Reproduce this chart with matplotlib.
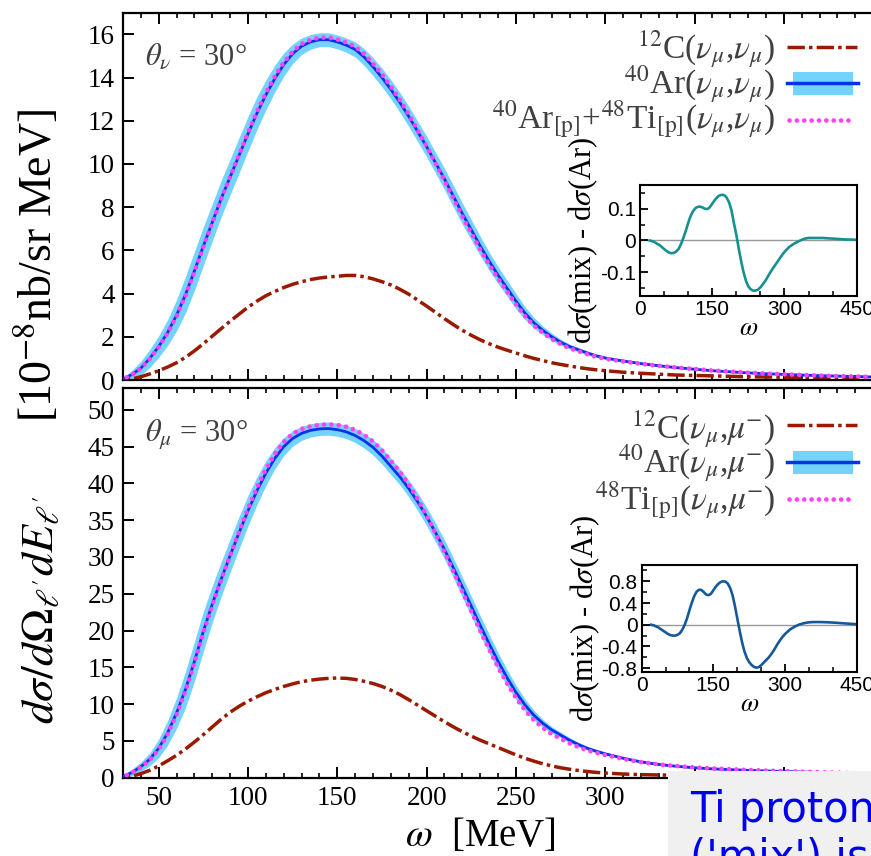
import numpy as np
import matplotlib
matplotlib.use("Agg")
import matplotlib.pyplot as plt
from matplotlib.lines import Line2D
from matplotlib.patches import Rectangle
from matplotlib.ticker import MultipleLocator

plt.rcParams['font.family'] = ['Liberation Serif', 'DejaVu Serif']
plt.rcParams['mathtext.fontset'] = 'stix'

# energy transfer grid [MeV]
omega = list(range(20, 305, 5)) + list(range(310, 460, 10))

# ---- neutral current, theta_nu = 30 deg ----
c12_nc = [0, 0, 0.0, 0.05, 0.15, 0.28, 0.43, 0.6, 0.8, 1.05, 1.35, 1.68, 2.03, 2.38, 2.72,
          3.05, 3.37, 3.65, 3.9, 4.1, 4.28, 4.43, 4.55, 4.65, 4.72, 4.77, 4.8, 4.84, 4.84,
          4.78, 4.68, 4.55, 4.4, 4.2, 3.97, 3.7, 3.42, 3.13, 2.84, 2.56, 2.3, 2.07, 1.86,
          1.68, 1.52, 1.38, 1.25, 1.12, 1.0, 0.9, 0.8, 0.72, 0.65, 0.58, 0.52, 0.47, 0.43,
          0.36, 0.31, 0.27, 0.23, 0.21, 0.19, 0.17, 0.15, 0.14, 0.13, 0.12, 0.11, 0.1, 0.09, 0.08]
ar_nc = [0, 0, 0.05, 0.25, 0.55, 1.0, 1.55, 2.2, 3.0, 3.95, 5.05, 6.2, 7.3, 8.4, 9.4,
         10.4, 11.4, 12.35, 13.2, 13.95, 14.6, 15.1, 15.45, 15.65, 15.75, 15.75, 15.65, 15.5,
         15.3, 14.95, 14.5, 14.0, 13.45, 12.85, 12.2, 11.5, 10.8, 10.05, 9.3, 8.5, 7.7, 6.95,
         6.2, 5.5, 4.85, 4.25, 3.65, 3.1, 2.65, 2.3, 2.0, 1.75, 1.55, 1.4, 1.25, 1.12, 1.02,
         0.88, 0.76, 0.66, 0.57, 0.5, 0.43, 0.38, 0.33, 0.29, 0.26, 0.23, 0.2, 0.18, 0.16, 0.14]
ar_nc_err = [0, 0, 0.06, 0.2, 0.32, 0.42, 0.5, 0.6, 0.72, 0.84, 0.9, 0.89, 0.86, 0.84, 0.82,
             0.82, 0.8, 0.76, 0.69, 0.62, 0.54, 0.45, 0.38, 0.34, 0.32, 0.32, 0.32, 0.33,
             0.35, 0.39, 0.42, 0.43, 0.44, 0.46, 0.47, 0.47, 0.48, 0.48, 0.49, 0.5, 0.49, 0.47,
             0.45, 0.42, 0.39, 0.37, 0.35, 0.3, 0.25, 0.2, 0.17, 0.14, 0.11, 0.095, 0.088, 0.075,
             0.06, 0.05, 0.045, 0.04, 0.035, 0.03, 0.028, 0.025, 0.022, 0.02, 0.018, 0.016,
             0.015, 0.014, 0.013, 0.012]
diff_nc = [0, -0.002, -0.005, -0.01, -0.014, -0.02, -0.027, -0.033, -0.038, -0.04, -0.039,
           -0.035, -0.027, -0.012, 0.008, 0.03, 0.055, 0.077, 0.092, 0.102, 0.106, 0.107,
           0.104, 0.1, 0.099, 0.105, 0.116, 0.127, 0.136, 0.142, 0.144, 0.143, 0.135, 0.12,
           0.095, 0.055, 0.018, -0.025, -0.065, -0.1, -0.127, -0.145, -0.154, -0.158, -0.158,
           -0.155, -0.148, -0.138, -0.128, -0.115, -0.102, -0.09, -0.079, -0.068, -0.057,
           -0.046, -0.036, -0.02, -0.01, -0.002, 0.005, 0.008, 0.008, 0.008, 0.008, 0.007,
           0.006, 0.005, 0.004, 0.003, 0.003, 0.002]

# ---- charged current, theta_mu = 30 deg ----
c12_cc = [0, 0, 0.0, 0.2, 0.55, 1.0, 1.6, 2.3, 3.05, 3.9, 4.85, 5.85, 6.9, 7.95, 8.9, 9.7,
          10.4, 11.0, 11.55, 12.0, 12.4, 12.75, 13.05, 13.25, 13.4, 13.5, 13.55, 13.5, 13.35,
          13.1, 12.8, 12.4, 11.9, 11.3, 10.6, 9.85, 9.1, 8.35, 7.6, 6.9, 6.25, 5.65, 5.1,
          4.6, 4.1, 3.6, 3.1, 2.65, 2.25, 1.9, 1.6, 1.35, 1.15, 0.98, 0.84, 0.72, 0.63,
          0.5, 0.42, 0.37, 0.33, 0.3, 0.27, 0.25, 0.23, 0.21, 0.2, 0.19, 0.18, 0.17, 0.16, 0.15]
ar_cc = [0, 0, 0.15, 0.7, 1.5, 2.5, 4.0, 6.1, 8.8, 12.0, 15.8, 19.9, 23.6, 27.0, 30.2, 33.3,
         36.3, 39.0, 41.4, 43.4, 45.0, 46.1, 46.8, 47.2, 47.4, 47.45, 47.3, 47.0, 46.5, 45.8,
         44.9, 43.7, 42.3, 40.9, 39.3, 37.5, 35.5, 33.3, 31.0, 28.5, 25.9, 23.3, 20.7, 18.2,
         15.8, 13.6, 11.6, 9.9, 8.5, 7.4, 6.5, 5.8, 5.1, 4.5, 4.0, 3.6, 3.25,
         2.65, 2.15, 1.8, 1.55, 1.35, 1.2, 1.1, 1.0, 0.92, 0.85, 0.78, 0.72, 0.66, 0.6, 0.55]
ar_cc_err = [0, 0, 0.25, 0.45, 0.63, 0.88, 1.26, 1.68, 2.07, 2.45, 2.7, 2.7, 2.5, 2.35, 2.25,
             2.2, 2.08, 1.9, 1.68, 1.45, 1.23, 1.05, 0.95, 0.9, 0.9, 0.9, 0.9, 0.91, 0.95, 1.0,
             1.05, 1.1, 1.1, 1.1, 1.15, 1.2, 1.25, 1.28, 1.3, 1.35, 1.35, 1.35, 1.32, 1.28, 1.2,
             1.1, 0.98, 0.82, 0.67, 0.54, 0.44, 0.38, 0.35, 0.3, 0.25, 0.21, 0.18,
             0.15, 0.12, 0.1, 0.09, 0.08, 0.07, 0.065, 0.06, 0.055, 0.05, 0.045, 0.04, 0.04,
             0.035, 0.035]
diff_cc = [0, -0.01, -0.03, -0.05, -0.08, -0.11, -0.14, -0.17, -0.19, -0.2, -0.2, -0.185,
           -0.155, -0.09, 0.0, 0.12, 0.27, 0.41, 0.53, 0.61, 0.645, 0.64, 0.6, 0.555, 0.545,
           0.57, 0.635, 0.7, 0.75, 0.785, 0.8, 0.795, 0.76, 0.68, 0.55, 0.35, 0.12, -0.11,
           -0.32, -0.49, -0.61, -0.69, -0.74, -0.775, -0.79, -0.78, -0.745, -0.7, -0.655,
           -0.61, -0.555, -0.49, -0.42, -0.345, -0.28, -0.22, -0.17, -0.09, -0.035, 0.005,
           0.03, 0.045, 0.05, 0.05, 0.048, 0.045, 0.04, 0.035, 0.028, 0.022, 0.016, 0.01]

main_xticks = [50, 100, 150, 200, 250, 300, 350, 400, 450]
main_xticklabels = ['50', '100', '150', '200', '250', '300', '', '', '']
nc_yticks = [0, 2, 4, 6, 8, 10, 12, 14, 16]
cc_yticks = [0, 5, 10, 15, 20, 25, 30, 35, 40, 45, 50]
inset_xticks = [0, 150, 300, 450]
nc_inset_yticks = [-0.1, 0, 0.1]
cc_inset_yticks = [-0.8, -0.4, 0, 0.4, 0.8]

labels_nc = [r"$^{12}$C($\nu_\mu$,$\nu_\mu$)",
             r"$^{40}$Ar($\nu_\mu$,$\nu_\mu$)",
             r"$^{40}$Ar$_{[\mathrm{p}]}$+$^{48}$Ti$_{[\mathrm{p}]}$($\nu_\mu$,$\nu_\mu$)"]
labels_cc = [r"$^{12}$C($\nu_\mu$,$\mu$$^{\mathrm{-}}$)",
             r"$^{40}$Ar($\nu_\mu$,$\mu$$^{\mathrm{-}}$)",
             r"$^{48}$Ti$_{[\mathrm{p}]}$($\nu_\mu$,$\mu$$^{\mathrm{-}}$)"]

RED = '#9a1a00'
BLUE = '#0033ee'
BAND = '#74d3fb'
MAGENTA = '#ff44f4'
GREY_TXT = '#404040'

W, H = 871, 856
fig = plt.figure(figsize=(W / 100, H / 100), dpi=100)


def fig_box(x0, y0, x1, y1):
    return [x0 / W, 1 - y1 / H, (x1 - x0) / W, (y1 - y0) / H]


def fx(x):
    return x / W


def fy(y):
    return 1 - y / H


ax_nc = fig.add_axes(fig_box(123, 12.7, 891, 380))
ax_cc = fig.add_axes(fig_box(123, 387.7, 891, 777.7))

om = np.array(omega, dtype=float)
dash_dot = (0, (5, 1.2, 1, 1.2))
dots = (0, (0.01, 1.55))

for ax, c12, ar, err, diff, ylim, yt in [
        (ax_nc, c12_nc, ar_nc, ar_nc_err, diff_nc, 17.0, nc_yticks),
        (ax_cc, c12_cc, ar_cc, ar_cc_err, diff_cc, 53.0, cc_yticks)]:
    ar = np.array(ar)
    err = np.array(err)
    mix = ar + np.array(diff)
    ax.fill_between(om, ar - err, ar + err, color=BAND, lw=0, zorder=1)
    ax.plot(om, c12, color=RED, lw=2.5, ls=dash_dot, zorder=2)
    ax.plot(om, ar, color=BLUE, lw=2.0, zorder=3)
    ax.plot(om, mix, color=MAGENTA, lw=3.4, ls=dots, dash_capstyle='round', zorder=4)
    ax.set_xlim(30, 460)
    ax.set_ylim(0, ylim)
    ax.set_xticks(main_xticks)
    ax.set_xticklabels(main_xticklabels)
    ax.xaxis.set_minor_locator(MultipleLocator(10))
    ax.set_yticks(yt)
    ax.tick_params(axis='both', which='major', direction='in', length=8, width=1.4,
                   labelsize=19.5, pad=6)
    ax.tick_params(axis='x', which='both', top=True, bottom=True)
    ax.tick_params(axis='x', which='minor', direction='in', length=3.5, width=1.2)
    for s in ax.spines.values():
        s.set_linewidth(1.6)

ax_nc.tick_params(axis='x', labelbottom=False)

# panel angle labels
fig.text(fx(145), fy(57), r"$\theta_\nu$ = 30°", fontsize=22, color=GREY_TXT,
         ha='left', va='center')
fig.text(fx(145), fy(435), r"$\theta_\mu$ = 30°", fontsize=22, color=GREY_TXT,
         ha='left', va='center')


# legends: right-aligned labels with their line samples on the right
def legend_rows(labels, baselines, handle_ys, band_rect):
    for lab, yb in zip(labels, baselines):
        fig.text(fx(775), fy(yb), lab, fontsize=24, color=GREY_TXT,
                 ha='right', va='baseline', zorder=6)
    y1, y2, y3 = handle_ys
    fig.add_artist(Line2D([fx(787), fx(857)], [fy(y1), fy(y1)], transform=fig.transFigure,
                          color=RED, lw=2.5, ls=dash_dot, zorder=6))
    r0, r1 = band_rect
    fig.add_artist(Rectangle((fx(793), fy(r1)), (853 - 793) / W, (r1 - r0) / H,
                             transform=fig.transFigure, facecolor=BAND, edgecolor='none',
                             zorder=6))
    fig.add_artist(Line2D([fx(787), fx(858)], [fy(y2), fy(y2)], transform=fig.transFigure,
                          color=BLUE, lw=2.5, zorder=7))
    fig.add_artist(Line2D([fx(789), fx(853)], [fy(y3), fy(y3)], transform=fig.transFigure,
                          color=MAGENTA, lw=3.4, ls=dots, dash_capstyle='round', zorder=6))


legend_rows(labels_nc, (59, 94, 129), (46.7, 83.3, 120), (71.7, 95))
legend_rows(labels_cc, (438, 473, 510), (425, 462, 499), (451, 474))

# axis labels
fig.text(fx(53), fy(610), r"$d\sigma/d\Omega_{\ell'}dE_{\ell'}$", fontsize=33,
         rotation=90, rotation_mode='anchor', ha='center', va='baseline')
fig.text(fx(52), fy(265), r"[10$^{\mathrm{-8}}$nb/sr MeV]", fontsize=33,
         rotation=90, rotation_mode='anchor', ha='center', va='baseline')
fig.text(fx(480), fy(846), r"$\omega$  [MeV]", fontsize=28, ha='center', va='baseline')

# insets: difference mix - Ar
for box, diff, color, ylo, yhi, yt, ymin_step in [
        ((640, 185, 856.7, 296), diff_nc, '#17908f', -0.175, 0.175, nc_inset_yticks, 0.05),
        ((641.7, 565, 856.7, 672.3), diff_cc, '#16599b', -0.875, 1.1, cc_inset_yticks, 0.2)]:
    ia = fig.add_axes(fig_box(*box))
    ia.set_zorder(5)
    ia.axhline(0, color='#999999', lw=1.0, zorder=1)
    ia.plot(om, diff, color=color, lw=1.9, zorder=2)
    ia.set_xlim(0, 450)
    ia.set_ylim(ylo, yhi)
    ia.set_xticks(inset_xticks)
    ia.xaxis.set_minor_locator(MultipleLocator(50))
    ia.set_yticks(yt)
    ia.yaxis.set_minor_locator(MultipleLocator(ymin_step))
    ia.set_yticklabels(['0' if v == 0 else f"{v:g}" for v in yt])
    ia.tick_params(which='major', direction='in', length=6, width=1.3, labelsize=15, pad=3)
    ia.tick_params(which='minor', direction='in', length=3.5, width=1.1)
    for lab in ia.get_xticklabels() + ia.get_yticklabels():
        lab.set_fontfamily('Liberation Sans')
    for s in ia.spines.values():
        s.set_linewidth(1.5)
    ia.set_xlabel(r"$\omega$", fontsize=19, labelpad=-1)
    ia.set_ylabel(r"d$\sigma$(mix) - d$\sigma$(Ar)", fontsize=22, labelpad=0)

# note box in the corner
fig.add_artist(Rectangle((fx(668), 0), 0.3, (856 - 771) / H, transform=fig.transFigure,
                         facecolor='#f0f0f0', edgecolor='none', zorder=10))
fig.text(fx(690), fy(822), "Ti proton spectral function", fontsize=30,
         color='#0000ee', ha='left', va='baseline', zorder=11, family='DejaVu Sans')
fig.text(fx(690), fy(870), "('mix') is used", fontsize=30,
         color='#0000ee', ha='left', va='baseline', zorder=11, family='DejaVu Sans')

fig.savefig("out.png", dpi=100)
